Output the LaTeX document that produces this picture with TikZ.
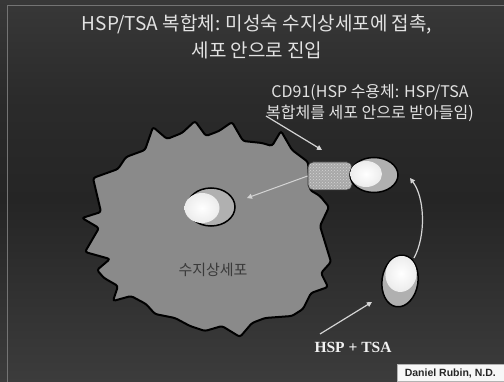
\documentclass[tikz,border=0pt]{standalone}
\usepackage{fontspec}
\setmainfont{Noto Sans CJK KR}
\newfontfamily\hspfont{Liberation Serif}
\newfontfamily\creditfont{Liberation Sans}
\usetikzlibrary{shapes.geometric,arrows.meta,patterns,calc}

\definecolor{bgtop}{HTML}{383838}
\definecolor{bgmid}{HTML}{252525}
\definecolor{bgbot}{HTML}{3C3C3C}
\definecolor{cellgray}{HTML}{8A8A8A}
\definecolor{shellgray}{HTML}{B0B0B0}
\definecolor{receptorgray}{HTML}{A8A8A8}
\definecolor{speckle}{HTML}{D4D4D4}
\definecolor{flowgray}{HTML}{D4D4D4}
\definecolor{textlight}{HTML}{E2E2E2}
\definecolor{celltext}{HTML}{3A3A3A}

\tikzset{
  cellbody/.style={fill=cellgray, draw=black, line width=2pt, rounded corners=2.5pt},
  shell/.style={ellipse, draw=black, line width=1.5pt, fill=shellgray, inner sep=0pt},
  core/.style={ellipse, draw=none, inner sep=0pt, inner color=white, outer color=white!85!gray},
  receptor/.style={rectangle, rounded corners=5pt, draw=black!80, line width=0.8pt,
    minimum width=44pt, minimum height=28pt, inner sep=0pt,
    preaction={fill=receptorgray}, pattern=crosshatch dots, pattern color=speckle},
  flow/.style={draw=flowgray, line width=1.2pt, -{Triangle[length=5pt,width=5pt]}},
  heading/.style={text=textlight, align=center, font=\fontsize{19}{27}\selectfont},
  sidenote/.style={text=textlight, align=center, font=\fontsize{16}{21}\selectfont},
  celllabel/.style={text=celltext, font=\fontsize{15}{18}\selectfont},
  hsplabel/.style={text=white!90!gray, font=\hspfont\bfseries\fontsize{15.5}{18}\selectfont},
  creditbox/.style={fill=white!94!gray, draw=gray!60, line width=0.5pt, text=black!85,
    minimum width=107pt, minimum height=17pt, inner sep=0pt,
    font=\creditfont\bfseries\fontsize{10.5}{12}\selectfont}
}

\begin{document}
\begin{tikzpicture}[x=1pt,y=-1pt]
  % background
  \useasboundingbox (0,0) rectangle (504,382);
  \shade[top color=bgtop, bottom color=bgmid, middle color=bgmid!70!bgtop] (0,0) rectangle (504,200);
  \shade[top color=bgmid, bottom color=bgbot] (0,199.5) rectangle (504,382);
  \draw[white!30!bgtop, line width=0.6pt] (7,382) -- (7,5) -- (504,5);

  % the dendritic cell
  \path[cellbody] (82,218) -- (101,212) -- (93,178) -- (118,169) -- (126,157) -- (145,150)
    -- (153,127) -- (167,139) -- (182,133) -- (195,121) -- (206,136) -- (219,131)
    -- (232,122) -- (243,141) -- (262,143) -- (272,146) -- (281,131) -- (292,150)
    -- (308,162) -- (310,190) -- (320,196) -- (329,207) -- (320,226) -- (331,262)
    -- (321,273) -- (328,287) -- (311,293) -- (303,309) -- (292,316) -- (265,318)
    -- (252,323) -- (240,337) -- (222,326) -- (205,331) -- (190,326) -- (175,318)
    -- (155,314) -- (146,304) -- (131,296) -- (113,301) -- (118,286) -- (104,278)
    -- (97,270) -- (110,259) -- (85,252) -- (99,228) -- cycle;

  \node[celllabel] (celltag) at (213,270) {수지상세포};

  % complex taken up inside the cell
  \node[shell, minimum width=48pt, minimum height=38pt] (nucshell) at (211,207) {};
  \node[core, minimum width=35pt, minimum height=30pt] (nuccore) at (202,208) {};

  % CD91 receptor with the bound complex
  \node[receptor] (cd91) at (330,176) {};
  \node[shell, minimum width=48pt, minimum height=35pt] (upshell) at (374,175) {};
  \node[core, minimum width=32pt, minimum height=26pt] (upcore) at (366,174) {};

  % free HSP/TSA complex
  \node[shell, minimum width=36pt, minimum height=52pt, rotate=-8] (lowshell) at (400,281) {};
  \node[core, minimum width=31pt, minimum height=36pt, rotate=-8] (lowcore) at (401,274) {};

  % labels
  \node[heading] (title) at (257,37) {HSP/TSA 복합체: 미성숙 수지상세포에 접촉,\\세포 안으로 진입};
  \node[sidenote] (cdnote) at (370,103) {CD91(HSP 수용체: HSP/TSA\\복합체를 세포 안으로 받아들임)};
  \node[hsplabel] (hsptag) at (353,347) {HSP + TSA};
  \node[creditbox, anchor=south east] (credit) at (504,382) {Daniel Rubin, N.D.};

  % connectors
  \coordinate (cdtail) at (266,116);
  \coordinate (cdtip) at (322,150);
  \coordinate (nuctip) at (247,198);
  \coordinate (lowstart) at (414,258);
  \coordinate (uptip) at (410,178);
  \coordinate (hsptail) at (320,334);
  \coordinate (lowtip) at (372,302);

  \draw[flow] (cdtail) -- (cdtip);
  \draw[flow, line width=1pt] (cd91.west) -- (nuctip);
  \draw[flow] (lowstart) .. controls (426,236) and (425,198) .. (uptip);
  \draw[flow] (hsptail) -- (lowtip);
\end{tikzpicture}
\end{document}
